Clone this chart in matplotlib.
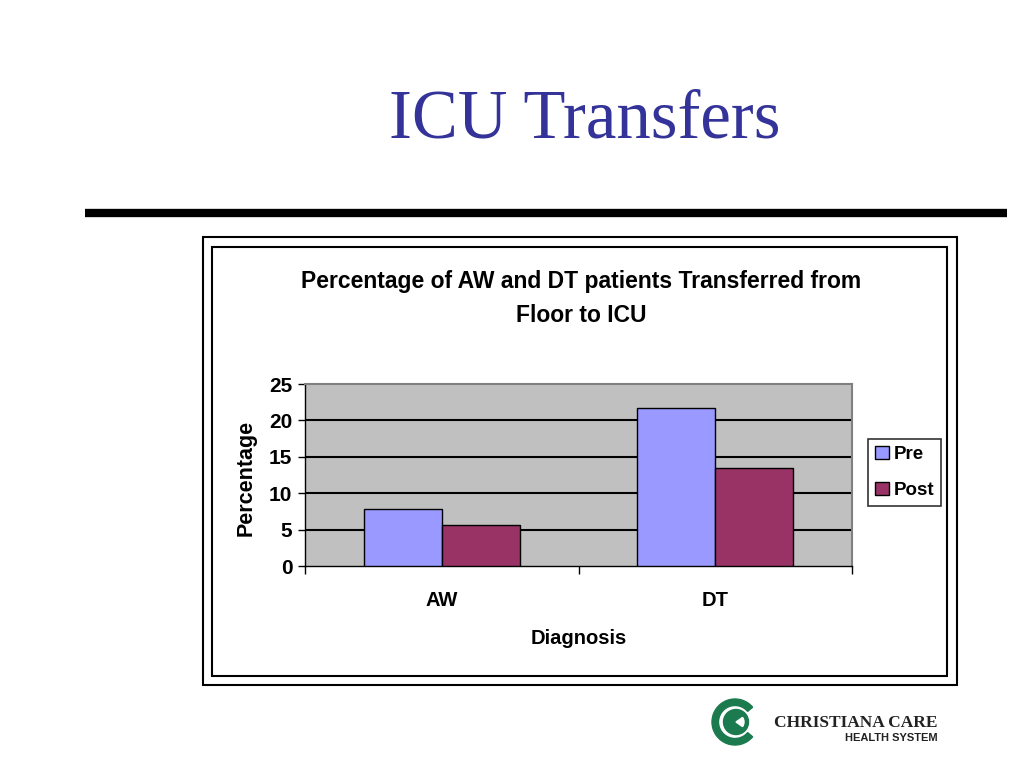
import numpy as np
import matplotlib
matplotlib.use("Agg")
import matplotlib.pyplot as plt
from matplotlib.patches import Rectangle, Circle, Wedge
from matplotlib.lines import Line2D

# data
categories = ["AW", "DT"]
pre_values = [7.8, 21.7]
post_values = [5.7, 13.4]
series_names = ["Pre", "Post"]
y_ticks = [0, 5, 10, 15, 20, 25]

W, H = 1024, 768
sans = ["Liberation Sans", "DejaVu Sans"]
serif = ["Liberation Serif", "DejaVu Serif"]


def fx(px):
    return px / W


def fy(py):
    return 1 - py / H


fig = plt.figure(figsize=(W / 100, H / 100), dpi=100)
fig.patch.set_facecolor("white")

# slide title and rule
fig.text(fx(585), fy(137), "ICU Transfers", family=serif, fontsize=49.5,
         color="#333399", ha="center", va="baseline")
fig.add_artist(Line2D([fx(85), fx(1007)], [fy(213), fy(213)], color="black",
                      linewidth=6, solid_capstyle="butt",
                      transform=fig.transFigure))

# chart frame (double border)
fig.add_artist(Rectangle((fx(203), fy(685)), fx(957 - 203), (685 - 237) / H,
                         transform=fig.transFigure, fill=False,
                         edgecolor="black", linewidth=1.5))
fig.add_artist(Rectangle((fx(212), fy(676)), fx(947 - 212), (676 - 247) / H,
                         transform=fig.transFigure, fill=False,
                         edgecolor="black", linewidth=1.5))

fig.text(fx(581), fy(281), "Percentage of AW and DT patients Transferred from",
         family=sans, fontsize=16.5, fontweight="bold", ha="center", va="center")
fig.text(fx(581), fy(316), "Floor to ICU", family=sans, fontsize=16.5,
         fontweight="bold", ha="center", va="center")

# plot area
ax = fig.add_axes([fx(305), fy(566), fx(852 - 305), (566 - 384) / H])
ax.set_facecolor("#c0c0c0")
x = np.arange(len(categories))
bw = 0.285
ax.bar(x - bw / 2, pre_values, bw, color="#9999ff", edgecolor="black",
       linewidth=1, label=series_names[0], zorder=3)
ax.bar(x + bw / 2, post_values, bw, color="#993366", edgecolor="black",
       linewidth=1, label=series_names[1], zorder=3)
ax.set_xlim(-0.5, 1.5)
ax.set_ylim(0, 25)
ax.set_yticks(y_ticks)
ax.set_yticklabels([str(t) for t in y_ticks], family=sans, fontsize=15,
                   fontweight="bold")
for t in y_ticks[1:-1]:
    ax.axhline(t, color="black", linewidth=1.5, zorder=1)
ax.set_xticks([-0.5, 0.5, 1.5])
ax.set_xticklabels([])
ax.tick_params(axis="x", length=6, width=1, direction="out")
ax.tick_params(axis="y", length=5, width=1, direction="out", pad=4)
for side in ["top", "right"]:
    ax.spines[side].set_color("#808080")
    ax.spines[side].set_linewidth(1.5)
for side in ["left", "bottom"]:
    ax.spines[side].set_color("black")
    ax.spines[side].set_linewidth(1)
for i, c in enumerate(categories):
    fig.text(fx(305 + 273.5 * (i + 0.5)), fy(600), c, family=sans,
             fontsize=14.5, fontweight="bold", ha="center", va="center")
fig.text(fx(579), fy(638), "Diagnosis", family=sans, fontsize=14.5,
         fontweight="bold", ha="center", va="center")
fig.text(fx(246), fy(478), "Percentage", family=sans, fontsize=15.5,
         fontweight="bold", ha="center", va="center", rotation=90)

leg = ax.legend(loc="upper left", bbox_to_anchor=(fx(868), fy(439)),
                bbox_transform=fig.transFigure, frameon=True, fancybox=False,
                prop={"family": sans, "size": 13.5, "weight": "bold"},
                handlelength=0.75, handleheight=0.75, handletextpad=0.25,
                borderpad=0.35, labelspacing=1.0, borderaxespad=0)
leg.get_frame().set_edgecolor("black")
leg.get_frame().set_linewidth(1.2)

# logo
green = "#1b7a4e"
lax = fig.add_axes([fx(707), fy(750), fx(56), 56 / H])
lax.set_xlim(-28, 28)
lax.set_ylim(-28, 28)
lax.set_aspect("equal")
lax.axis("off")
lax.add_patch(Wedge((0, 0), 23, 40, 320, width=6.5, color=green))
lax.add_patch(Circle((1, 0), 12.5, color=green))
lax.add_patch(Wedge((1, 0), 8, -35, 35, color="white"))
fig.text(fx(938), fy(723), "CHRISTIANA CARE", family=serif, fontsize=12.5,
         fontweight="bold", color="#222222", ha="right", va="center")
fig.text(fx(938), fy(738), "HEALTH SYSTEM", family=sans, fontsize=8,
         fontweight="bold", color="#222222", ha="right", va="center")

fig.savefig("out.png", dpi=100)
